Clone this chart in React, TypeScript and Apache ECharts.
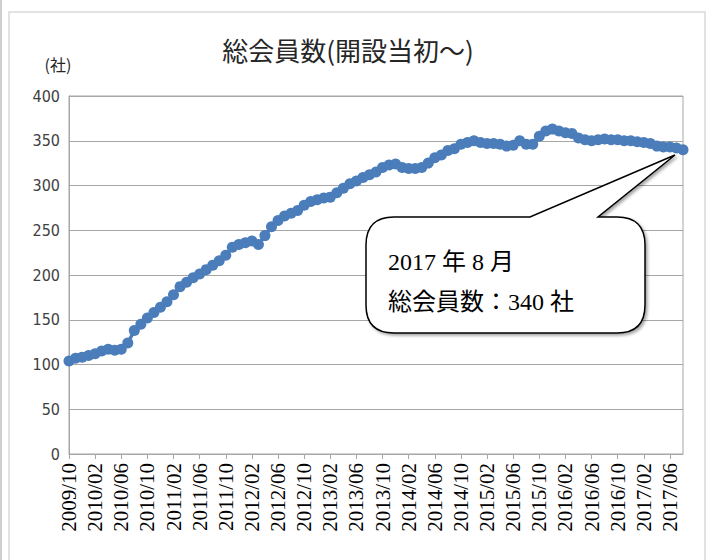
import React, { useEffect, useRef } from 'react';
import * as echarts from 'echarts';

const categories = [
  '2009/10', '2009/11', '2009/12',
  '2010/01', '2010/02', '2010/03', '2010/04', '2010/05', '2010/06', '2010/07', '2010/08', '2010/09', '2010/10', '2010/11', '2010/12',
  '2011/01', '2011/02', '2011/03', '2011/04', '2011/05', '2011/06', '2011/07', '2011/08', '2011/09', '2011/10', '2011/11', '2011/12',
  '2012/01', '2012/02', '2012/03', '2012/04', '2012/05', '2012/06', '2012/07', '2012/08', '2012/09', '2012/10', '2012/11', '2012/12',
  '2013/01', '2013/02', '2013/03', '2013/04', '2013/05', '2013/06', '2013/07', '2013/08', '2013/09', '2013/10', '2013/11', '2013/12',
  '2014/01', '2014/02', '2014/03', '2014/04', '2014/05', '2014/06', '2014/07', '2014/08', '2014/09', '2014/10', '2014/11', '2014/12',
  '2015/01', '2015/02', '2015/03', '2015/04', '2015/05', '2015/06', '2015/07', '2015/08', '2015/09', '2015/10', '2015/11', '2015/12',
  '2016/01', '2016/02', '2016/03', '2016/04', '2016/05', '2016/06', '2016/07', '2016/08', '2016/09', '2016/10', '2016/11', '2016/12',
  '2017/01', '2017/02', '2017/03', '2017/04', '2017/05', '2017/06', '2017/07', '2017/08',
];

const memberCounts = [
  104, 107, 108,
  110, 112, 115, 117, 116, 117, 124, 138, 145, 152, 158, 164,
  170, 178, 187, 192, 197, 201, 206, 211, 216, 222, 231, 234,
  236, 238, 234, 244, 254, 261, 266, 269, 272, 278, 282, 284,
  286, 287, 292, 297, 302, 305, 309, 312, 315, 320, 323, 324,
  320, 319, 319, 320, 325, 331, 334, 339, 341, 346, 348, 350,
  348, 347, 347, 346, 344, 345, 350, 346, 346, 355, 361, 363,
  361, 359, 358, 353, 351, 350, 351, 352, 351, 351, 350, 350,
  349, 348, 347, 344, 343, 343, 342, 340,
];

const yMin = 0;
const yMax = 400;
const yStep = 50;

const titleText = '総会員数(開設当初～)';
const unitText = '(社)';
const calloutLines = ['2017 年 8 月', '総会員数：340 社'];

const calloutPath =
  'M 394 217 L 530 217 L 675 155 L 598 217 L 617 217 Q 645 217 645 245 L 645 305 Q 645 333 617 333 L 394 333 Q 366 333 366 305 L 366 245 Q 366 217 394 217 Z';
echarts.graphic.registerShape('callout', echarts.graphic.extendPath(calloutPath, {}));

const CJK = '"Noto Sans CJK JP", sans-serif';
const SERIF = '"Liberation Serif", "Noto Sans CJK JP", serif';
const NARROW = '"Liberation Sans Narrow", "DejaVu Sans Condensed", "Liberation Sans", sans-serif';

export default function App() {
  const ref = useRef<HTMLDivElement>(null);

  useEffect(() => {
    if (!ref.current) return;
    const chart = echarts.init(ref.current, null, { renderer: 'svg' });
    chart.setOption({
      animation: false,
      backgroundColor: '#ffffff',
      grid: {
        left: 69,
        right: 30,
        top: 96,
        bottom: 106,
        show: true,
        borderColor: '#a6a6a6',
        borderWidth: 1,
      },
      xAxis: {
        type: 'category',
        data: categories,
        boundaryGap: false,
        axisLine: { show: true, lineStyle: { color: '#a6a6a6', width: 1 } },
        axisTick: { show: true, interval: 3, length: 5, lineStyle: { color: '#a6a6a6' } },
        axisLabel: {
          interval: 3,
          rotate: 90,
          margin: 9,
          fontSize: 21,
          fontFamily: SERIF,
          color: '#000000',
        },
        splitLine: { show: false },
      },
      yAxis: {
        type: 'value',
        min: yMin,
        max: yMax,
        interval: yStep,
        axisLine: { show: true, lineStyle: { color: '#a6a6a6', width: 1 } },
        axisTick: { show: false },
        axisLabel: {
          margin: 9,
          fontSize: 16,
          fontFamily: NARROW,
          color: '#404040',
        },
        splitLine: { show: true, lineStyle: { color: '#a6a6a6', width: 1 } },
      },
      series: [
        {
          type: 'line',
          data: memberCounts,
          symbol: 'circle',
          symbolSize: 11,
          showAllSymbol: true,
          lineStyle: { color: '#4a7dba', width: 3.5 },
          itemStyle: { color: '#4a7dba' },
          z: 3,
        },
      ],
      graphic: [
        {
          type: 'rect',
          silent: true,
          z: -10,
          shape: { x: 9, y: 12, width: 696, height: 560 },
          style: { fill: 'none', stroke: '#d9d9d9', lineWidth: 1.5 },
        },
        {
          type: 'line',
          silent: true,
          shape: { x1: 1, y1: 0, x2: 1, y2: 560 },
          style: { stroke: '#cfcfcf', lineWidth: 2 },
        },
        {
          type: 'text',
          x: 348,
          y: 49,
          z: 50,
          style: {
            text: titleText,
            fontSize: 26,
            fontFamily: CJK,
            fill: '#262626',
            align: 'center',
            verticalAlign: 'middle',
          },
        },
        {
          type: 'text',
          x: 58,
          y: 64,
          z: 50,
          style: {
            text: unitText,
            fontSize: 16,
            fontFamily: CJK,
            fill: '#262626',
            align: 'center',
            verticalAlign: 'middle',
          },
        },
        {
          type: 'callout',
          x: 0,
          y: 0,
          z: 100,
          style: {
            fill: '#ffffff',
            stroke: '#000000',
            lineWidth: 1.5,
            shadowBlur: 3,
            shadowOffsetX: 2,
            shadowOffsetY: 2,
            shadowColor: 'rgba(0,0,0,0.35)',
          },
        },
        {
          type: 'text',
          x: 388,
          y: 262,
          z: 101,
          style: {
            text: calloutLines[0],
            fontSize: 24,
            fontFamily: SERIF,
            fill: '#000000',
            align: 'left',
            verticalAlign: 'middle',
          },
        },
        {
          type: 'text',
          x: 388,
          y: 302,
          z: 101,
          style: {
            text: calloutLines[1],
            fontSize: 24,
            fontFamily: SERIF,
            fill: '#000000',
            align: 'left',
            verticalAlign: 'middle',
          },
        },
      ],
    });
    return () => chart.dispose();
  }, []);

  return (
    <div
      ref={ref}
      style={{ position: 'absolute', left: 0, top: 0, width: 713, height: 560 }}
    />
  );
}
